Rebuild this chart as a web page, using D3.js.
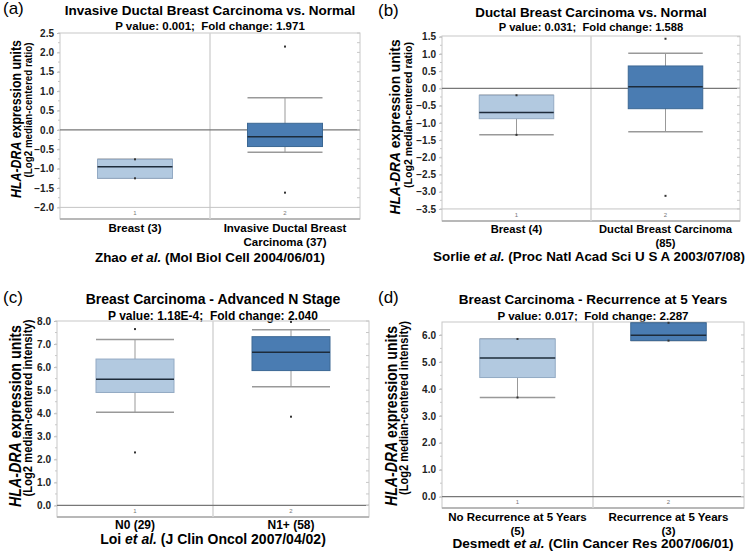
<!DOCTYPE html>
<html>
<head>
<meta charset="utf-8">
<script src="https://cdn.jsdelivr.net/npm/d3@7"></script>
<style>
  body { margin: 0; background: #fff; }
  text { font-family: "Liberation Sans", Arial, sans-serif; }
</style>
</head>
<body>
<div id="chart"></div>
<script>
// data (box stats: q1, median, q3, whisker lo/hi, outliers)
var panelLetters = ["(a)", "(b)", "(c)", "(d)"];
var titles = [
  "Invasive Ductal Breast Carcinoma vs. Normal",
  "Ductal Breast Carcinoma vs. Normal",
  "Breast Carcinoma - Advanced N Stage",
  "Breast Carcinoma - Recurrence at 5 Years"
];
var pValues = ["0.001", "0.031", "1.18E-4", "0.017"];
var foldChanges = ["1.971", "1.588", "2.040", "2.287"];
var yUnits = ["ratio", "ratio", "intensity", "intensity"];
var citeAuthors = ["Zhao", "Sorlie", "Loi", "Desmedt"];
var citeSources = [
  "(Mol Biol Cell 2004/06/01)",
  "(Proc Natl Acad Sci U S A 2003/07/08)",
  "(J Clin Oncol 2007/04/02)",
  "(Clin Cancer Res 2007/06/01)"
];
var categories = [
  [["Breast (3)"], ["Invasive Ductal Breast", "Carcinoma (37)"]],
  [["Breast (4)"], ["Ductal Breast Carcinoma", "(85)"]],
  [["N0 (29)"], ["N1+ (58)"]],
  [["No Recurrence at 5 Years", "(5)"], ["Recurrence at 5 Years", "(3)"]]
];
var yDomains = [[-2.3, 2.5], [-3.85, 1.52], [-0.5, 8.0], [-0.42, 6.48]];
var yTicks = [
  [-2.0, -1.5, -1.0, -0.5, 0.0, 0.5, 1.0, 1.5, 2.0, 2.5],
  [-3.5, -3.0, -2.5, -2.0, -1.5, -1.0, -0.5, 0.0, 0.5, 1.0, 1.5],
  [0, 1, 2, 3, 4, 5, 6, 7, 8],
  [0, 1, 2, 3, 4, 5, 6]
];
var q1 = [[-1.25, -0.43], [-0.88, -0.59], [4.9, 5.85], [4.42, 5.79]];
var medians = [[-0.95, -0.18], [-0.70, 0.05], [5.47, 6.65], [5.14, 5.99]];
var q3 = [[-0.76, 0.17], [-0.20, 0.65], [6.35, 7.32], [5.85, 6.45]];
var whiskerLo = [[-1.25, -0.58], [-1.35, -1.26], [4.04, 5.15], [3.68, 5.79]];
var whiskerHi = [[-0.76, 0.83], [-0.20, 1.02], [7.2, 7.62], [5.85, 6.45]];
var outliers = [[[], [2.15, -1.62]], [[], [1.44, -3.12]], [[7.65, 2.3], [7.96, 3.85]], [[], []]];
// whisker end dots (where whisker meets data point)
var endDots = [[[-0.76, -1.25], []], [[-0.20, -1.35], []], [[], []], [[5.85, 3.68], [6.45, 5.79]]];

// layout of each panel on the page
var layout = [
  {ox: 0,   oy: 0,   left: 60, right: 360, top: 33, bottom: 219, titleY: 15, subY: 30, catY: 232, citeY: 262,
   titleFs: 13.5, subFs: 11.5, catFs: 11.5, citeFs: 13.4,
   y1x: 21, y1c: 119, y1fs: 14.5, y1len: 158, y2x: 32, y2c: 110, y2fs: 11, y2len: 135},
  {ox: 375, oy: 0,   left: 67, right: 365, top: 36, bottom: 221, titleY: 17, subY: 31, catY: 233, citeY: 261,
   titleFs: 13.4, subFs: 11.2, catFs: 11.2, citeFs: 13.4,
   y1x: 25, y1c: 127, y1fs: 15.5, y1len: 175, y2x: 37, y2c: 115, y2fs: 11.8, y2len: 146},
  {ox: 0,   oy: 278, left: 57, right: 369, top: 43, bottom: 239, titleY: 25.5, subY: 41.5, catY: 251, citeY: 266,
   titleFs: 14, subFs: 12, catFs: 12, citeFs: 14,
   y1x: 20.5, y1c: 138, y1fs: 16, y1len: 182, y2x: 32, y2c: 130, y2fs: 12, y2len: 177},
  {ox: 375, oy: 278, left: 67, right: 369, top: 44, bottom: 230, titleY: 25.5, subY: 41.5, catY: 243, citeY: 270,
   titleFs: 13.5, subFs: 11.6, catFs: 11.5, citeFs: 13.6,
   y1x: 22, y1c: 138, y1fs: 15.8, y1len: 180, y2x: 33, y2c: 130, y2fs: 12, y2len: 174}
];

var svg = d3.select("#chart").append("svg")
  .attr("width", 750)
  .attr("height", 556);

var fills = ["#b2c9e0", "#4a7cb2"];
var strokes = ["#93aac4", "#3c6894"];

layout.forEach(function(L, i) {
  var g = svg.append("g").attr("transform", `translate(${L.ox}, ${L.oy})`);
  var cx = (L.left + L.right) / 2;

  g.append("text").attr("x", 3).attr("y", L.titleY - 1)
    .style("font-size", "17px").text(panelLetters[i]);

  g.append("text").attr("x", cx).attr("y", L.titleY)
    .attr("text-anchor", "middle").style("font-size", L.titleFs + "px").style("font-weight", "bold")
    .text(titles[i]);

  g.append("text").attr("x", cx).attr("y", L.subY)
    .attr("text-anchor", "middle").style("font-size", L.subFs + "px").style("font-weight", "bold")
    .style("white-space", "pre")
    .text(`P value: ${pValues[i]};  Fold change: ${foldChanges[i]}`);

  var y = d3.scaleLinear().domain(yDomains[i]).range([L.bottom, L.top]);
  var x = d3.scaleBand().domain([0, 1]).range([L.left, L.right]);

  // frame
  g.append("rect").attr("x", L.left).attr("y", L.top)
    .attr("width", L.right - L.left).attr("height", L.bottom - L.top)
    .attr("fill", "none").attr("stroke", "#c8c8c8");
  g.append("line").attr("x1", L.left).attr("x2", L.right)
    .attr("y1", L.bottom).attr("y2", L.bottom).attr("stroke", "#aaa").attr("stroke-width", 1.5);

  // divider
  g.append("line").attr("x1", L.left + x.bandwidth()).attr("x2", L.left + x.bandwidth())
    .attr("y1", L.top).attr("y2", L.bottom).attr("stroke", "#d4d4d4").attr("stroke-width", 1.5);

  // lowest tick line and zero line
  var lowTick = d3.min(yTicks[i]);
  if (lowTick !== 0) {
    g.append("line").attr("x1", L.left).attr("x2", L.right)
      .attr("y1", y(lowTick)).attr("y2", y(lowTick)).attr("stroke", "#c4c4c4");
  }
  g.append("line").attr("x1", L.left).attr("x2", L.right)
    .attr("y1", y(0)).attr("y2", y(0)).attr("stroke", "#777").attr("stroke-width", 1.2);

  // y axis
  var step = yTicks[i][1] - yTicks[i][0];
  var fmt = d3.format(".1f");
  var axis = g.append("g").attr("transform", `translate(${L.left}, 0)`)
    .call(d3.axisLeft(y).tickValues(yTicks[i]).tickSize(3).tickFormat(fmt));
  axis.select(".domain").remove();
  axis.selectAll(".tick line").attr("stroke", "#bbb");
  axis.selectAll(".tick text").style("font-size", "10px").style("font-weight", "bold")
    .style("font-family", "Liberation Sans, Arial, sans-serif").attr("fill", "#222");

  // minor ticks on both edges
  var minor = d3.range(yTicks[i][0], d3.max(yTicks[i]) + 0.001, step / 2);
  g.append("g").selectAll("line").data(minor).join("line")
    .attr("x1", L.right).attr("x2", L.right - 3)
    .attr("y1", d => y(d)).attr("y2", d => y(d)).attr("stroke", "#c8c8c8");
  g.append("g").selectAll("line").data(minor).join("line")
    .attr("x1", L.left).attr("x2", L.left - 2)
    .attr("y1", d => y(d)).attr("y2", d => y(d)).attr("stroke", "#c8c8c8");

  // boxes
  [0, 1].forEach(function(k) {
    var bx = x(k) + x.bandwidth() / 4;
    var bw = x.bandwidth() / 2;
    var mid = x(k) + x.bandwidth() / 2;

    g.append("line").attr("x1", mid).attr("x2", mid)
      .attr("y1", y(whiskerHi[i][k])).attr("y2", y(whiskerLo[i][k])).attr("stroke", "#999");
    [whiskerHi[i][k], whiskerLo[i][k]].forEach(function(w) {
      g.append("line").attr("x1", bx).attr("x2", bx + bw)
        .attr("y1", y(w)).attr("y2", y(w)).attr("stroke", "#999").attr("stroke-width", 1.5);
    });

    g.append("rect").attr("x", bx).attr("y", y(q3[i][k]))
      .attr("width", bw).attr("height", y(q1[i][k]) - y(q3[i][k]))
      .attr("fill", fills[k]).attr("stroke", strokes[k]);
    g.append("line").attr("x1", bx).attr("x2", bx + bw)
      .attr("y1", y(medians[i][k])).attr("y2", y(medians[i][k]))
      .attr("stroke", "#1d2b3a").attr("stroke-width", 1.5);

    g.append("g").selectAll("rect").data(outliers[i][k].concat(endDots[i][k])).join("rect")
      .attr("x", mid - 1).attr("y", d => y(d) - 1)
      .attr("width", 2).attr("height", 2).attr("fill", "#333");

    g.append("text").attr("x", mid).attr("y", L.bottom - 4)
      .attr("text-anchor", "middle").style("font-size", "6px").attr("fill", "#777")
      .text(k + 1);

    var lines = categories[i][k];
    g.append("text").attr("text-anchor", "middle")
      .style("font-size", L.catFs + "px").style("font-weight", "bold")
      .selectAll("tspan").data(lines).join("tspan")
      .attr("x", mid).attr("y", (d, j) => L.catY + j * 13.5).text(d => d);
  });

  // y title (the original font is narrower, so squeeze to the measured length)
  var t1 = g.append("text").attr("transform", `translate(${L.y1x}, ${L.y1c}) rotate(-90)`)
    .attr("text-anchor", "middle").style("font-size", L.y1fs + "px").style("font-weight", "bold")
    .attr("textLength", L.y1len).attr("lengthAdjust", "spacingAndGlyphs");
  t1.append("tspan").style("font-style", "italic").text("HLA-DRA");
  t1.append("tspan").text(" expression units");
  g.append("text").attr("transform", `translate(${L.y2x}, ${L.y2c}) rotate(-90)`)
    .attr("text-anchor", "middle").style("font-size", L.y2fs + "px").style("font-weight", "bold")
    .attr("textLength", L.y2len).attr("lengthAdjust", "spacingAndGlyphs")
    .text(`(Log2 median-centered ${yUnits[i]})`);

  // citation
  var c = g.append("text").attr("x", cx + (i === 1 ? -2 : 0)).attr("y", L.citeY)
    .attr("text-anchor", "middle").style("font-size", L.citeFs + "px").style("font-weight", "bold");
  c.append("tspan").text(citeAuthors[i] + " ");
  c.append("tspan").style("font-style", "italic").text("et al.");
  c.append("tspan").text(" " + citeSources[i]);
});
</script>
</body>
</html>
